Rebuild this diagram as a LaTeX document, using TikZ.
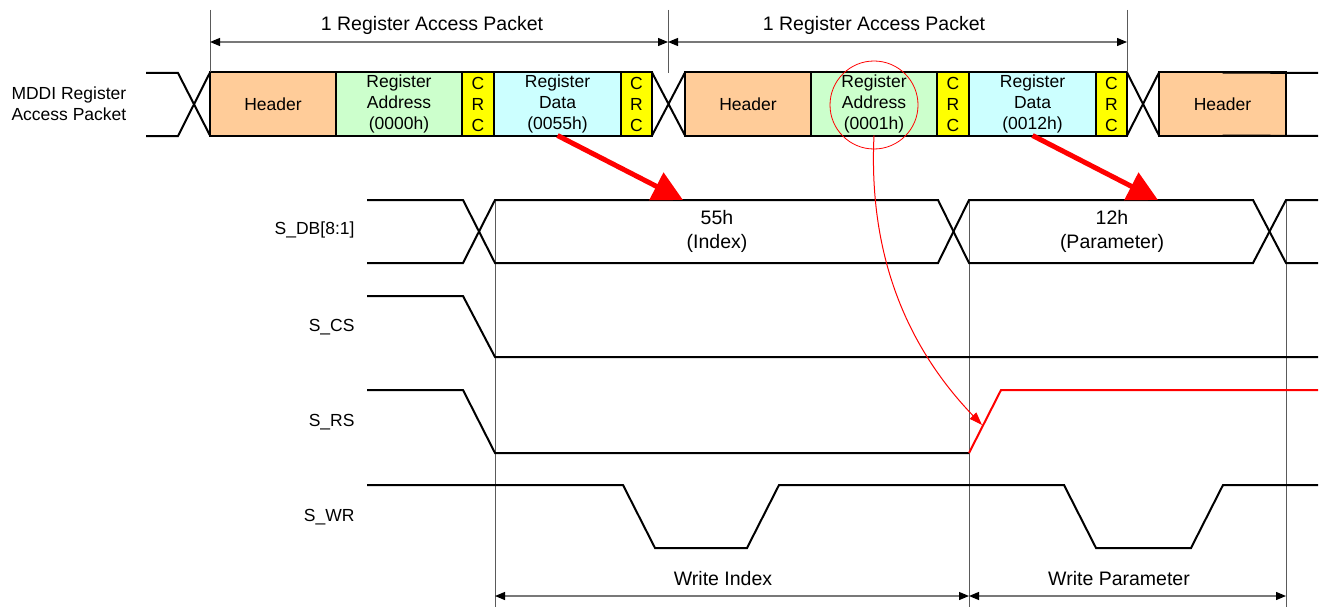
\documentclass[tikz,border=0pt]{standalone}
\usepackage{fontspec}
\setmainfont{Liberation Sans}
\usetikzlibrary{arrows.meta, positioning}
\definecolor{headerorange}{RGB}{255, 204, 153}
\definecolor{addrgreen}{RGB}{204, 255, 204}
\definecolor{crcyellow}{RGB}{255, 255, 0}
\definecolor{datacyan}{RGB}{204, 255, 255}
\definecolor{guidegray}{RGB}{90, 90, 90}
\definecolor{dimgray}{RGB}{120, 120, 120}
\newcommand{\fieldfont}{\fontsize{17.5}{21}\selectfont}
\newcommand{\tagfont}{\fontsize{19.5}{24}\selectfont}

\begin{document}
\begin{tikzpicture}[
    x=1pt, y=-1pt,
    field/.style={draw, line width=2pt, minimum height=63pt, inner sep=0pt, outer sep=0pt, align=center, font=\fieldfont},
    sig/.style={line width=2pt, line join=miter},
    guide/.style={draw=guidegray, line width=0.8pt},
    dim/.style={{Triangle[length=10pt, width=8pt, color=black]}-{Triangle[length=10pt, width=8pt, color=black]}, draw=dimgray, line width=1.2pt},
    bigarrow/.style={-{Triangle[length=30pt, width=30pt]}, draw=red, line width=5pt},
    hint/.style={-{Triangle[length=13pt, width=9pt]}, draw=red, line width=1pt},
    lbl/.style={font=\tagfont, align=center},
    signame/.style={anchor=east, font=\fieldfont}
]
\useasboundingbox (0,0) rectangle (1324,607);

% packet fields
\node[field, fill=headerorange, minimum width=126pt, anchor=west] (hdrA) at (210,104) {Header};
\node[field, fill=addrgreen, minimum width=126pt, right=0pt of hdrA] (addrA) {Register\\Address\\(0000h)};
\node[field, fill=crcyellow, minimum width=32pt, right=0pt of addrA] (crcA) {C\\R\\C};
\node[field, fill=datacyan, minimum width=127pt, right=0pt of crcA] (dataA) {Register\\Data\\(0055h)};
\node[field, fill=crcyellow, minimum width=31pt, right=0pt of dataA] (crcB) {C\\R\\C};

\node[field, fill=headerorange, minimum width=126pt, anchor=west] (hdrB) at (685,104) {Header};
\node[field, fill=addrgreen, minimum width=126pt, right=0pt of hdrB] (addrB) {Register\\Address\\(0001h)};
\node[field, fill=crcyellow, minimum width=32pt, right=0pt of addrB] (crcC) {C\\R\\C};
\node[field, fill=datacyan, minimum width=127pt, right=0pt of crcC] (dataB) {Register\\Data\\(0012h)};
\node[field, fill=crcyellow, minimum width=31pt, right=0pt of dataB] (crcD) {C\\R\\C};

\node[field, fill=headerorange, minimum width=127pt, anchor=west] (hdrC) at (1159,104) {Header};

\draw[sig] (146,73) -- (178,73) -- (hdrA.south west) (146,136) -- (178,136) -- (hdrA.north west);
\draw[sig] (crcB.north east) -- (hdrB.south west) (crcB.south east) -- (hdrB.north west);
\draw[sig] (crcD.north east) -- (hdrC.south west) (crcD.south east) -- (hdrC.north west);
\draw[sig] (hdrC.north) -- (1318,73) (hdrC.south) -- (1318,136);

\node[anchor=west, align=left, font=\fieldfont] (mddi) at (8,104) {MDDI Register\\Access Packet};

% packet length
\coordinate (pA) at (210,10);
\coordinate (pB) at (668,10);
\coordinate (pC) at (1127,10);
\coordinate (pBlow) at (668,73);
\coordinate (dA) at (210,42);
\coordinate (dB) at (668,42);
\coordinate (dC) at (1127,42);
\draw[guide] (pA) -- (hdrA.north west);
\draw[guide] (pB) -- (pBlow);
\draw[guide] (pC) -- (crcD.north east);
\draw[dim] (dA) -- (dB);
\draw[dim] (dB) -- (dC);
\node[lbl] (pktA) at (432,25) {1 Register Access Packet};
\node[lbl] (pktB) at (874,25) {1 Register Access Packet};

% guides
\coordinate (gA) at (495,200);
\coordinate (gB) at (969,200);
\coordinate (gC) at (1286,200);
\coordinate (gAlow) at (495,607);
\coordinate (gBlow) at (969,607);
\coordinate (gClow) at (1286,607);
\draw[guide] (gA) -- (gAlow);
\draw[guide] (gB) -- (gBlow);
\draw[guide] (gC) -- (gClow);

% signals
\node[signame] (sdb) at (358,230) {S\_DB[8:1]};
\node[signame] (scs) at (358,327) {S\_CS};
\node[signame] (srs) at (358,422) {S\_RS};
\node[signame] (swr) at (358,517) {S\_WR};

\draw[sig] (367,200) -- (463,200) -- (495,263) -- (938,263) -- (969,200) -- (1253,200) -- (1286,263) -- (1318,263);
\draw[sig] (367,263) -- (463,263) -- (495,200) -- (938,200) -- (969,263) -- (1253,263) -- (1286,200) -- (1318,200);
\node[lbl] (idx) at (717,231) {55h\\(Index)};
\node[lbl] (par) at (1112,231) {12h\\(Parameter)};

\draw[sig] (367,296) -- (463,296) -- (495,357) -- (1318,357);

\draw[sig] (367,390) -- (463,390) -- (495,453) -- (969,453);
\draw[sig, red] (969,453) -- (1001,390) -- (1318,390);

\draw[sig] (367,485) -- (623,485) -- (655,548) -- (747,548) -- (779,485) -- (1064,485) -- (1096,548) -- (1191,548) -- (1223,485) -- (1318,485);

% write cycles
\coordinate (wA) at (495,596);
\coordinate (wB) at (969,596);
\coordinate (wC) at (1286,596);
\draw[dim] (wA) -- (wB);
\draw[dim] (wB) -- (wC);
\node[lbl] (wridx) at (723,579) {Write Index};
\node[lbl] (wrpar) at (1119,579) {Write Parameter};

% red marks
\node[draw=red, circle, line width=0.8pt, minimum size=88pt] (focus) at (874,105) {};
\coordinate (idxhit) at (683,200);
\coordinate (parhit) at (1158,200);
\coordinate (rsedge) at (982,425);
\draw[bigarrow] (dataA.south) -- (idxhit);
\draw[bigarrow] (dataB.south) -- (parhit);
\draw[hint] (addrB.south) .. controls (868,260) and (910,350) .. (rsedge);

\end{tikzpicture}
\end{document}
